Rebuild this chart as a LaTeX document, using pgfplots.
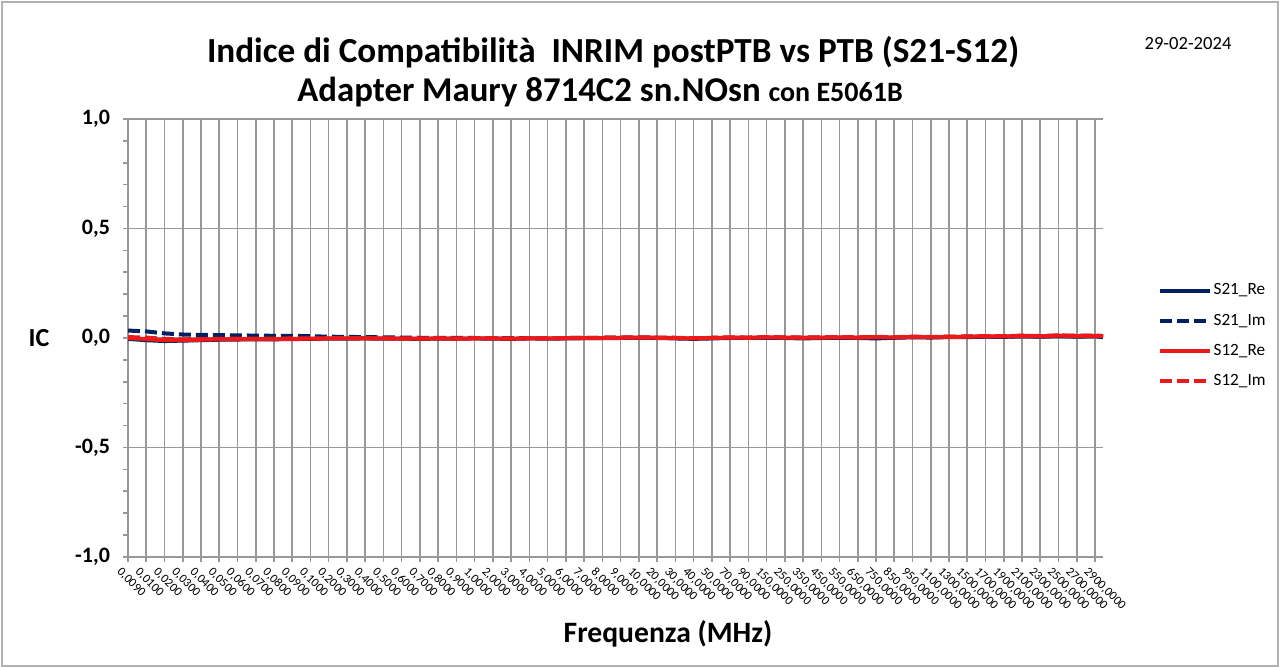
\documentclass[border=0pt]{standalone}
\usepackage{pgfplots}
\pgfplotsset{compat=1.18}
\usepackage{fontspec}
\setmainfont{Carlito}
\definecolor{navy}{RGB}{0,32,96}
\definecolor{myred}{RGB}{235,25,25}
\definecolor{gridgray}{RGB}{152,152,152}
\begin{document}
\begin{tikzpicture}
\path[use as bounding box] (0,0) rectangle (640pt,334pt);
\draw[gray!60, line width=0.6pt] (1pt,1pt) rectangle (639pt,333pt);
\node[font=\bfseries\fontsize{17.6}{20}\selectfont] at (306.5pt,308pt) {Indice di Compatibilità\ \ INRIM postPTB vs PTB (S21-S12)};
\node[font=\bfseries\fontsize{17.4}{20}\selectfont] at (300pt,288pt) {Adapter Maury 8714C2 sn.NOsn {\fontsize{14}{16}\selectfont con E5061B}};
\node[font=\fontsize{9.3}{11}\selectfont] at (594pt,312pt) {29-02-2024};
\node[font=\bfseries\fontsize{13}{15}\selectfont] at (19.5pt,165pt) {IC};
\node[font=\bfseries\fontsize{14.8}{17}\selectfont] at (334pt,17pt) {Frequenza (MHz)};
\begin{axis}[
  at={(64pt,55.5pt)}, anchor=south west,
  scale only axis, width=487.5pt, height=219pt,
  xmin=0, xmax=53.44, ymin=-1, ymax=1,
  axis lines=left, axis line style={-, draw=gridgray, line width=0.8pt},
  xmajorgrids, ymajorgrids,
  major grid style={draw=gridgray, line width=0.8pt},
  tick align=outside,
  major tick length=2.5pt, minor tick length=2.5pt,
  tick style={draw=gridgray, line width=0.8pt},
  xtick={0,...,53},
  xticklabels={{0,0090},{0,0100},{0,0200},{0,0300},{0,0400},{0,0500},{0,0600},{0,0700},{0,0800},{0,0900},{0,1000},{0,2000},{0,3000},{0,4000},{0,5000},{0,6000},{0,7000},{0,8000},{0,9000},{1,0000},{2,0000},{3,0000},{4,0000},{5,0000},{6,0000},{7,0000},{8,0000},{9,0000},{10,0000},{20,0000},{30,0000},{40,0000},{50,0000},{70,0000},{90,0000},{150,0000},{250,0000},{350,0000},{450,0000},{550,0000},{650,0000},{750,0000},{850,0000},{950,0000},{1100,0000},{1300,0000},{1500,0000},{1700,0000},{1900,0000},{2100,0000},{2300,0000},{2500,0000},{2700,0000},{2900,0000}},
  xticklabel style={rotate=-45, anchor=north west, font=\fontsize{6.2}{7}\selectfont, inner sep=0.5pt, yshift=-3pt, xshift=-1pt},
  ytick={-1,-0.5,0,0.5,1},
  yticklabels={{-1,0},{-0,5},{0,0},{0,5},{1,0}},
  minor y tick num=4,
  yticklabel style={font=\bfseries\fontsize{11}{12}\selectfont, xshift=-3pt},
  legend style={draw=none, fill=none, at={(1.056,0.635)}, anchor=north west,
    font=\fontsize{8.6}{10}\selectfont, row sep=3.5pt, inner sep=0pt,
    nodes={inner sep=0.8pt, text height=7pt, text depth=3pt}},
  legend cell align=left,
  legend image code/.code={\draw[#1] (0pt,0pt) -- (25pt,0pt);},
]
\addplot[navy, line width=2pt] table {
x y
0 -0.004
1 -0.010
2 -0.014
3 -0.012
4 -0.010
5 -0.008
6 -0.007
7 -0.006
8 -0.006
9 -0.005
10 -0.004
11 -0.003
12 -0.003
13 -0.002
14 -0.003
15 -0.003
16 -0.004
17 -0.003
18 -0.003
19 -0.002
20 -0.003
21 -0.004
22 -0.002
23 -0.003
24 -0.002
25 -0.001
26 -0.001
27 0.000
28 0.001
29 0.000
30 -0.002
31 -0.004
32 -0.002
33 0.000
34 0.000
35 0.001
36 0.000
37 -0.002
38 0.000
39 0.001
40 0.000
41 -0.002
42 0.001
43 0.003
44 0.002
45 0.004
46 0.004
47 0.006
48 0.005
49 0.008
50 0.006
51 0.009
52 0.006
53 0.008
53.44 0.004
};
\addlegendentry{S21\_Re}
\addplot[navy, line width=2pt, dash pattern=on 6pt off 2.5pt] table {
x y
0 0.034
1 0.030
2 0.021
3 0.016
4 0.014
5 0.013
6 0.012
7 0.011
8 0.010
9 0.010
10 0.008
11 0.006
12 0.005
13 0.004
14 0.003
15 0.002
16 0.001
17 0.001
18 0.000
19 0.000
20 -0.001
21 -0.001
22 -0.001
23 -0.001
24 0.000
25 0.000
26 0.001
27 0.002
28 0.002
29 0.001
30 0.000
31 -0.001
32 0.000
33 0.001
34 0.001
35 0.002
36 0.002
37 0.001
38 0.002
39 0.003
40 0.002
41 0.003
42 0.003
43 0.004
44 0.004
45 0.005
46 0.006
47 0.007
48 0.007
49 0.009
50 0.008
51 0.010
52 0.009
53 0.010
53.44 0.009
};
\addlegendentry{S21\_Im}
\addplot[myred, line width=2pt] table {
x y
0 0.000
1 -0.005
2 -0.010
3 -0.010
4 -0.008
5 -0.006
6 -0.006
7 -0.005
8 -0.005
9 -0.004
10 -0.003
11 -0.002
12 -0.002
13 -0.002
14 -0.002
15 -0.003
16 -0.003
17 -0.002
18 -0.003
19 -0.002
20 -0.002
21 -0.003
22 -0.002
23 -0.002
24 -0.001
25 -0.001
26 0.000
27 0.001
28 0.002
29 0.001
30 0.000
31 -0.002
32 0.000
33 0.002
34 0.001
35 0.003
36 0.002
37 0.001
38 0.002
39 0.003
40 0.002
41 0.004
42 0.003
43 0.005
44 0.004
45 0.005
46 0.006
47 0.008
48 0.007
49 0.010
50 0.008
51 0.011
52 0.009
53 0.010
53.44 0.008
};
\addlegendentry{S12\_Re}
\addplot[myred, line width=2pt, dash pattern=on 6pt off 2.5pt] table {
x y
0 0.004
1 0.002
2 -0.004
3 -0.006
4 -0.005
5 -0.004
6 -0.003
7 -0.003
8 -0.003
9 -0.002
10 -0.002
11 -0.001
12 -0.001
13 -0.001
14 -0.002
15 -0.002
16 -0.002
17 -0.001
18 -0.002
19 -0.001
20 -0.001
21 -0.002
22 -0.001
23 -0.001
24 0.000
25 0.000
26 0.001
27 0.002
28 0.003
29 0.002
30 0.001
31 -0.001
32 0.001
33 0.003
34 0.002
35 0.004
36 0.003
37 0.002
38 0.003
39 0.004
40 0.003
41 0.005
42 0.004
43 0.006
44 0.005
45 0.006
46 0.007
47 0.009
48 0.008
49 0.011
50 0.009
51 0.012
52 0.010
53 0.011
53.44 0.009
};
\addlegendentry{S12\_Im}
\end{axis}
\end{tikzpicture}
\end{document}
